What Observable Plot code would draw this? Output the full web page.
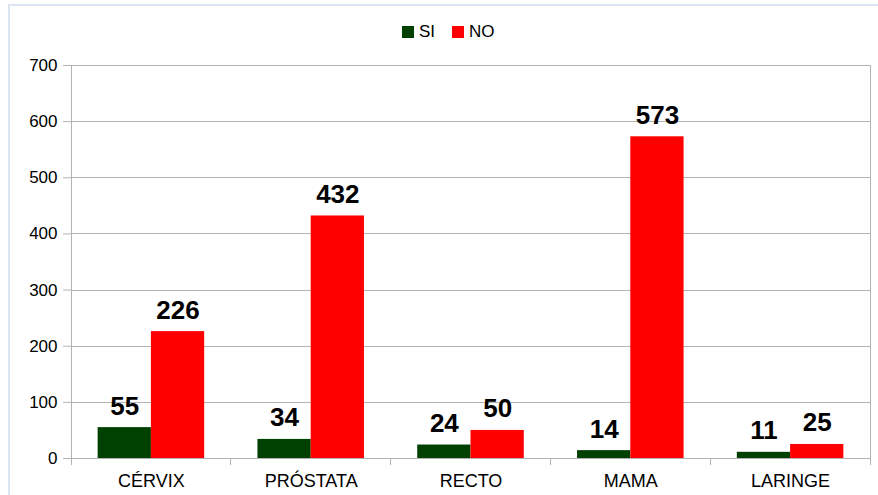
<!DOCTYPE html>
<html><head><meta charset="utf-8">
<script src="https://cdn.jsdelivr.net/npm/d3@7"></script>
<script src="https://cdn.jsdelivr.net/npm/@observablehq/plot@0.6"></script>
<style>
html,body{margin:0;padding:0;background:#fff;}
body{width:878px;height:495px;position:relative;overflow:hidden;font-family:"Liberation Sans",Arial,sans-serif;}
#edge{position:absolute;left:8px;top:4px;right:0;bottom:0;border-left:2px solid #dce6f2;border-top:2px solid #dce6f2;pointer-events:none;}
#legend{height:48px;display:flex;align-items:center;padding-left:402px;padding-top:15px;box-sizing:border-box;font-size:17px;color:#000;}
.item{display:flex;align-items:center;margin-right:17px;}
.sw{width:12px;height:12px;margin-right:5px;}
#chart svg{display:block;}
</style></head><body>
<div id="legend"></div>
<div id="chart"></div>
<div id="edge"></div>
<script>
const categories = ["CÉRVIX", "PRÓSTATA", "RECTO", "MAMA", "LARINGE"];
const seriesNames = ["SI", "NO"];
const siValues = [55, 34, 24, 14, 11];
const noValues = [226, 432, 50, 573, 25];
const seriesColors = ["#004000", "#ff0000"];
const yTicks = [0, 100, 200, 300, 400, 500, 600, 700];
const gridColor = "#b3b3b3";

const data = [];
categories.forEach((c, i) => {
  data.push({category: c, series: "SI", value: siValues[i]});
  data.push({category: c, series: "NO", value: noValues[i]});
});

// legend
const legend = document.getElementById("legend");
seriesNames.forEach((s, i) => {
  const it = document.createElement("div");
  it.className = "item";
  const sw = document.createElement("div");
  sw.className = "sw";
  sw.style.background = seriesColors[i];
  const t = document.createElement("span");
  t.textContent = s;
  it.appendChild(sw); it.appendChild(t);
  legend.appendChild(it);
});

let facetCount = 0;
function boundaryTicks(index, scales) {
  const k = (index && index.fx != null) ? categories.indexOf(index.fx) : facetCount++ % categories.length;
  const {x, y} = scales;
  const [x0, x1] = x.range();
  const y0 = y(0), yTop = y(yTicks[yTicks.length - 1]);
  const g = d3.create("svg:g").attr("stroke", gridColor).attr("fill", "none").attr("shape-rendering", "crispEdges");
  for (const xx of [x0, x1]) {
    g.append("line").attr("x1", xx).attr("x2", xx).attr("y1", y0).attr("y2", y0 + 7);
  }
  if (k === 0) g.append("line").attr("x1", x0).attr("x2", x0).attr("y1", yTop).attr("y2", y0);
  if (k === categories.length - 1) g.append("line").attr("x1", x1).attr("x2", x1).attr("y1", yTop).attr("y2", y0);
  return g.node();
}

const chart = Plot.plot({
  width: 878,
  height: 447,
  marginLeft: 71,
  marginRight: 8,
  marginTop: 17,
  marginBottom: 37,
  style: {fontFamily: "'Liberation Sans', Arial, sans-serif", fontSize: "17px", color: "#000", background: "transparent"},
  fx: {domain: categories, padding: 0, label: null, round: false},
  x: {domain: seriesNames, paddingInner: 0, paddingOuter: 0.5, axis: null, round: false},
  y: {domain: [0, 700], label: null},
  color: {domain: seriesNames, range: seriesColors},
  marks: [
    Plot.gridY(yTicks, {stroke: gridColor, strokeOpacity: 1, shapeRendering: "crispEdges"}),
    Plot.barY(data, {fx: "category", x: "series", y: "value", fill: "series"}),
    Plot.text(data, {fx: "category", x: "series", y: "value", text: d => String(d.value), dy: -13, lineAnchor: "bottom", fontSize: 26, fontWeight: "bold", fill: "#000"}),
    Plot.axisY(yTicks, {tickSize: 8, tickPadding: 6, stroke: gridColor, strokeOpacity: 1, fill: "#000", fontSize: 17, label: null}),
    Plot.axisFx({anchor: "bottom", tickSize: 0, tickPadding: 16, fontSize: 18, fill: "#000", label: null}),
    boundaryTicks
  ]
});
document.getElementById("chart").appendChild(chart);
</script>
</body></html>
